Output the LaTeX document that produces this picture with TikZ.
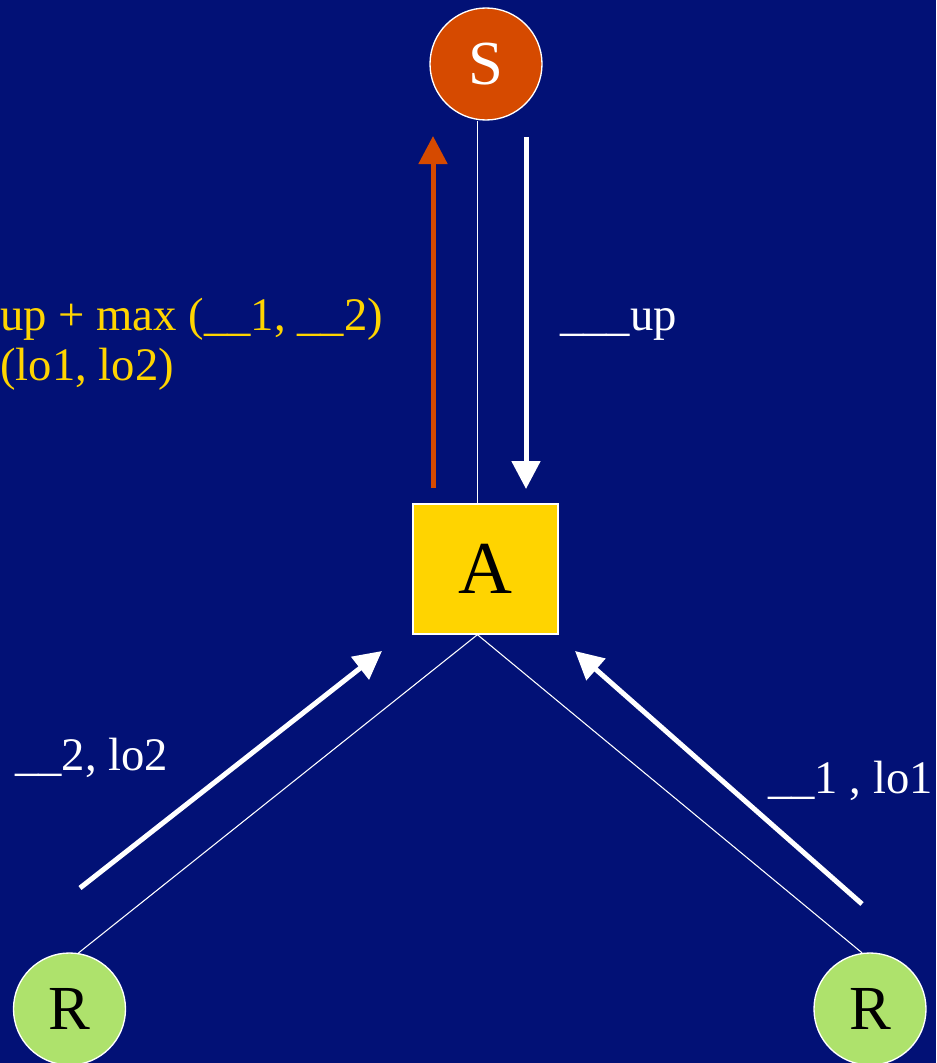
\documentclass[tikz,border=0pt]{standalone}
\usepackage{fontspec}
\setmainfont{LiberationSerif-Regular.ttf}
\newfontfamily\slidefont{LiberationSerif-Regular.ttf}
\usepackage{xcolor}
\usetikzlibrary{arrows.meta, positioning}

\definecolor{bgnavy}{RGB}{2,17,118}
\definecolor{srcorange}{RGB}{214,74,0}
\definecolor{aggold}{RGB}{255,212,0}
\definecolor{rcvgreen}{RGB}{174,226,108}

\begin{document}
\begin{tikzpicture}[
  x=0.75pt, y=-0.75pt,
  every node/.style={font=\slidefont\fontsize{35}{40}\selectfont},
  circ/.style={draw=white, circle, line width=1pt, minimum size=84pt,
               inner sep=0pt, font=\slidefont\fontsize{47}{50}\selectfont},
  box/.style={draw=white, rectangle, line width=1pt, fill=aggold,
              minimum width=108.75pt, minimum height=97.5pt, inner sep=0pt,
              font=\slidefont\fontsize{56}{60}\selectfont},
  link/.style={white, line width=0.8pt},
  arrow/.style={-{Triangle[length=21pt, width=21pt]}, line width=3.75pt, white},
  lbl/.style={anchor=base west, inner sep=0pt},
]
\fill[bgnavy] (0,0) rectangle (936,1063);
\useasboundingbox (0,0) rectangle (936,1063);

\node[circ, fill=srcorange, text=white] (s)  at (486,64)   {S};
\node[box]                              (a)  at (485.5,569) {A};
\node[circ, fill=rcvgreen]              (rl) at (69.5,1009) {R};
\node[circ, fill=rcvgreen]              (rr) at (870,1009)  {R};

\draw[link] (a.97 |- s.south) -- (a.97);
\draw[link] (a.263) -- (rl.81);
\draw[link] (a.263) -- (rr.98);

% messages
\coordinate (upfrom)  at (433,488);
\coordinate (upto)    at (433,136);
\coordinate (dnfrom)  at (526,137);
\coordinate (dnto)    at (526,489);
\coordinate (lfrom)   at (80,888);
\coordinate (lto)     at (382,651);
\coordinate (rfrom)   at (862,904);
\coordinate (rto)     at (575,651);

\draw[arrow, srcorange] (upfrom) -- (upto);
\draw[arrow] (dnfrom) -- (dnto);
\draw[arrow] (lfrom) -- (lto);
\draw[arrow] (rfrom) -- (rto);

\node[lbl, text=aggold] (sum)  at (0,330) {up + max (\_\_1, \_\_2)};
\node[lbl, text=aggold] (lows) at (0,380) {(lo1, lo2)};
\node[lbl, text=white]  (down) at (560,330) {\_\_\_up};
\node[lbl, text=white]  (fr2)  at (15,770) {\_\_2, lo2};
\node[lbl, text=white]  (fr1)  at (768,793) {\_\_1 , lo1};
\end{tikzpicture}
\end{document}
